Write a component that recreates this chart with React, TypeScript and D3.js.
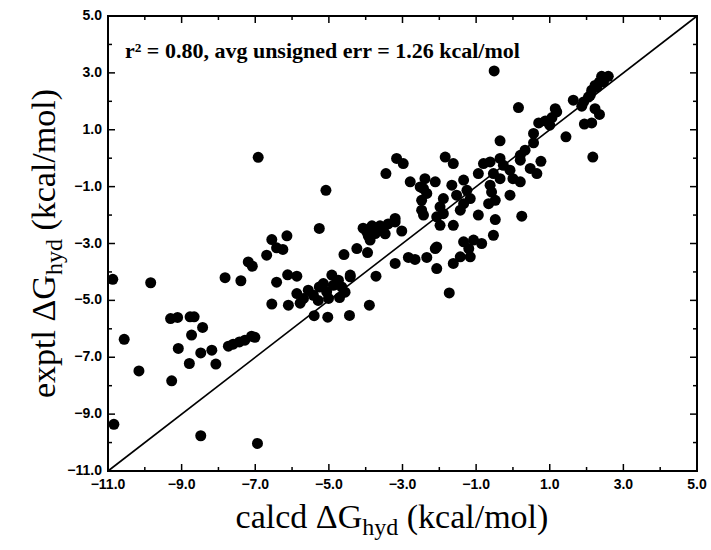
import { useEffect, useRef } from 'react';
import * as d3 from 'd3';

// calcd dG_hyd (x) and exptl dG_hyd (y), kcal/mol
const calcd = [
  -10.87, -9.84, -10.56, -10.16, -10.84, -9.30, -9.11, -8.77, -8.66, -8.43,
  -8.73, -9.09, -8.79, -8.48, -8.18, -8.07, -9.27, -7.73, -7.60, -7.43,
  -7.28, -7.10, -7.01, -8.48, -6.94, -7.82, -7.39, -7.19, -7.08, -6.42,
  -6.12, -5.87, -5.87, -6.55, -6.10, -5.78, -6.92, -6.55, -6.14, -6.42,
  -6.25, -6.69, -5.26, -5.08, -3.45, -4.59, -4.24, -3.95, -3.97, -3.74,
  -3.52, -3.88, -3.72, -3.90, -4.42, -5.40, -5.03, -4.44, -5.69, -5.56,
  -5.42, -5.26, -5.15, -5.06, -4.92, -4.88, -4.74, -4.65, -4.71, -5.01,
  -4.42, -5.29, -4.56, -4.07, -3.83, -3.61, -3.39, -3.93, -3.47, -3.20,
  -3.02, -3.20, -2.84, -2.66, -2.34, -2.11, -2.07, -0.35, 0.56, 1.44,
  -1.84, -1.62, -2.39, -2.11, -2.52, -2.34, -1.89, -1.66, -1.34, -1.25,
  -1.53, -1.16, -1.98, -2.07, -1.89, -1.43, -1.34, -1.98, -1.62, -0.94,
  -0.94, -0.80, -0.62, -0.35, -0.26, -0.08, 0.20, 0.33, 0.20, 0.47,
  0.65, 0.76, -0.53, -0.35, 0.00, 0.20, -0.62, -0.58, -0.48, -0.66,
  -0.08, -0.48, 0.24, -0.53, -1.07, -0.85, -1.34, -1.20, -1.16, -1.43,
  -1.62, -2.07, -1.73, -3.16, -2.98, -2.79, -2.43, -2.48, -2.48, -2.43,
  -3.20, 2.17, -0.51, 0.15, 0.70, 0.88, 1.06, 1.15, 1.19, 1.00,
  0.56, 1.64, 1.87, 1.94, 2.14, 2.23, 2.35, 2.05, 2.14, 2.23,
  2.35, 2.41, 2.59, 2.28, 2.46, 2.10, 1.92,
];
const exptl = [
  -4.26, -4.38, -6.37, -7.48, -9.36, -5.64, -5.60, -5.58, -5.58, -5.95,
  -6.22, -6.69, -7.22, -6.85, -6.75, -7.24, -7.83, -6.61, -6.54, -6.46,
  -6.40, -6.26, -6.30, -9.76, -10.03, -4.20, -4.31, -3.65, -3.80, -4.36,
  -4.10, -4.15, -4.76, -5.13, -5.17, -5.10, 0.03, -2.86, -2.73, -3.15,
  -3.21, -3.41, -2.47, -1.13, -0.54, -3.39, -3.18, -3.32, -2.59, -2.65,
  -2.56, -2.88, -4.15, -5.17, -4.17, -5.54, -5.59, -5.53, -4.93, -4.64,
  -4.82, -4.53, -4.41, -4.70, -4.11, -4.47, -4.29, -4.53, -4.90, -4.93,
  -4.11, -5.00, -4.71, -2.46, -2.38, -2.38, -2.31, -2.73, -2.66, -2.24,
  -2.56, -3.70, -3.49, -3.56, -3.49, -3.18, -3.88, 0.61, 0.54, 0.75,
  0.04, -0.19, -0.72, -0.83, -1.01, -1.24, -1.42, -0.95, -0.77, -1.13,
  -1.30, -1.42, -1.71, -2.06, -1.95, -1.83, -1.60, -2.36, -2.36, -2.00,
  -0.54, -0.19, -0.13, -0.01, -0.25, -0.42, -0.07, 0.28, 0.10, -0.36,
  -0.54, -0.11, -0.54, -0.72, -0.72, -0.83, -0.95, -1.19, -1.48, -1.60,
  -1.30, -2.16, -2.04, -2.71, -2.88, -3.00, -2.94, -3.18, -3.47, -3.47,
  -3.70, -3.12, -4.74, -0.01, -0.19, -0.83, -1.07, -1.48, -1.83, -2.00,
  -2.12, 0.04, 3.07, 1.78, 1.24, 1.31, 1.43, 1.74, 1.63, 1.16,
  0.87, 2.04, 1.83, 1.20, 1.24, 1.74, 1.54, 2.15, 2.39, 2.56,
  2.68, 2.88, 2.88, 2.50, 2.68, 2.21, 1.98,
];

const majorTicks = [-11, -9, -7, -5, -3, -1, 1, 3, 5];
const minorTicks = [-10, -8, -6, -4, -2, 0, 2, 4];
const annotation = 'r² = 0.80, avg unsigned err = 1.26 kcal/mol';

function App() {
  const ref = useRef(null);
  const width = 711;
  const height = 550;
  const left = 108;
  const right = 697;
  const top = 16;
  const bottom = 471;

  useEffect(() => {
    const svg = d3.select(ref.current);
    svg.selectAll('*').remove();

    const x = d3.scaleLinear().domain([-11, 5]).range([left, right]);
    const y = d3.scaleLinear().domain([-11, 5]).range([bottom, top]);
    const fmt = d3.format('.1f');
    const minus = (d) => fmt(d).replace('-', '\u2212');

    // diagonal
    svg.append('line')
      .attr('x1', x(-11)).attr('y1', y(-11))
      .attr('x2', x(5)).attr('y2', y(5))
      .attr('stroke', '#000')
      .attr('stroke-width', 1.6);

    // points
    svg.append('g')
      .selectAll('circle')
      .data(calcd)
      .enter()
      .append('circle')
      .attr('cx', (d) => x(d))
      .attr('cy', (d, i) => y(exptl[i]))
      .attr('r', 5.5)
      .attr('fill', '#000');

    // frame
    svg.append('rect')
      .attr('x', left).attr('y', top)
      .attr('width', right - left).attr('height', bottom - top)
      .attr('fill', 'none')
      .attr('stroke', '#000')
      .attr('stroke-width', 2);

    const ticks = svg.append('g').attr('stroke', '#000').attr('stroke-width', 1.5);
    const addTicks = (vals, len) => {
      vals.forEach((v) => {
        ticks.append('line').attr('x1', x(v)).attr('x2', x(v)).attr('y1', bottom).attr('y2', bottom - len);
        ticks.append('line').attr('x1', x(v)).attr('x2', x(v)).attr('y1', top).attr('y2', top + len);
        ticks.append('line').attr('y1', y(v)).attr('y2', y(v)).attr('x1', left).attr('x2', left + len);
        ticks.append('line').attr('y1', y(v)).attr('y2', y(v)).attr('x1', right).attr('x2', right - len);
      });
    };
    addTicks(majorTicks, 7);
    addTicks(minorTicks, 4);

    const labelFont = '"Liberation Sans", Arial, sans-serif';
    svg.append('g')
      .selectAll('text')
      .data(majorTicks)
      .enter()
      .append('text')
      .attr('x', (d) => x(d))
      .attr('y', bottom + 18)
      .attr('text-anchor', 'middle')
      .attr('font-family', labelFont)
      .attr('font-weight', 'bold')
      .attr('font-size', 14)
      .text(minus);

    svg.append('g')
      .selectAll('text')
      .data(majorTicks)
      .enter()
      .append('text')
      .attr('x', left - 6)
      .attr('y', (d) => y(d) + 4)
      .attr('text-anchor', 'end')
      .attr('font-family', labelFont)
      .attr('font-weight', 'bold')
      .attr('font-size', 14)
      .text(minus);

    const serif = '"Liberation Serif", "Times New Roman", serif';
    svg.append('text')
      .attr('x', 125)
      .attr('y', 58)
      .attr('font-family', serif)
      .attr('font-weight', 'bold')
      .attr('font-size', 22)
      .text(annotation);

    const title = (g, prefix) => {
      g.append('tspan').text(`${prefix} \u0394G`);
      g.append('tspan').attr('font-size', 24).attr('dy', 7).text('hyd');
      g.append('tspan').attr('dy', -7).text(' (kcal/mol)');
    };

    const xt = svg.append('text')
      .attr('x', 392)
      .attr('y', 528)
      .attr('text-anchor', 'middle')
      .attr('font-family', serif)
      .attr('font-size', 34);
    title(xt, 'calcd');

    const yt = svg.append('text')
      .attr('transform', `translate(55, ${(top + bottom) / 2}) rotate(-90)`)
      .attr('text-anchor', 'middle')
      .attr('font-family', serif)
      .attr('font-size', 34);
    title(yt, 'exptl');
  }, []);

  return (
    <div style={{ position: 'absolute', left: 0, top: 0 }}>
      <svg width={width} height={height} ref={ref} style={{ display: 'block' }} />
    </div>
  );
}

export default App;
